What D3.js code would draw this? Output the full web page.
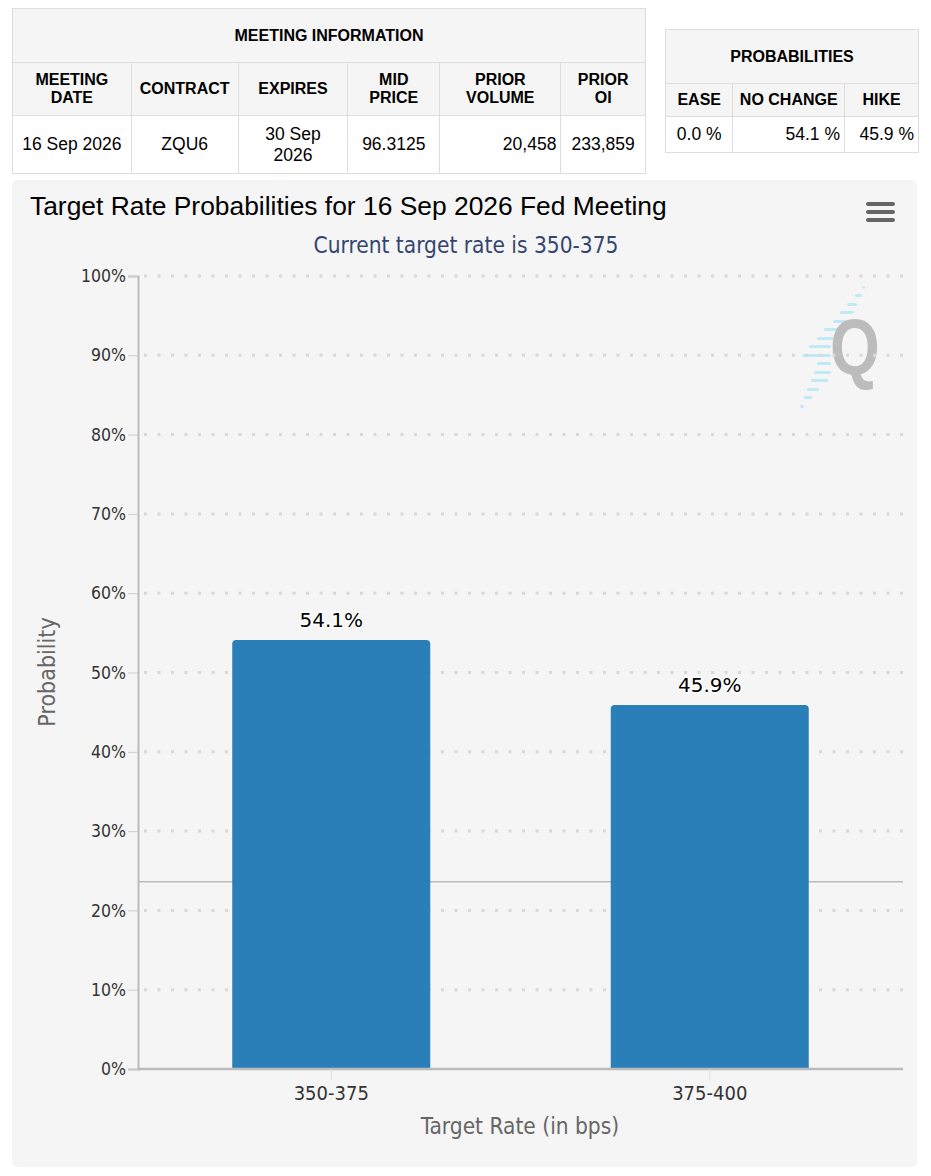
<!DOCTYPE html>
<html>
<head>
<meta charset="utf-8">
<script src="https://cdn.jsdelivr.net/npm/d3@7"></script>
<style>
  body { margin: 0; background: #fff; font-family: Arial, "Liberation Sans", sans-serif; }
  table { position: absolute; border-collapse: collapse; background: #fff; }
  td, th { border: 1px solid #ddd; font-size: 16px; padding: 0 4px; }
  th { background: #f5f5f5; font-weight: bold; text-align: center; }
  td { text-align: center; font-size: 17.5px; }
  td.num { text-align: right; }
  #chart { position: absolute; left: 12px; top: 180px; }
</style>
</head>
<body>
<div id="tables"></div>
<div id="chart"></div>
<script>
// meeting info
const meetingHeaders = ["MEETING<br>DATE", "CONTRACT", "EXPIRES", "MID<br>PRICE", "PRIOR<br>VOLUME", "PRIOR<br>OI"];
const meetingRow = ["16 Sep 2026", "ZQU6", "30 Sep<br>2026", "96.3125", "20,458", "233,859"];
const meetingColWidths = [123, 101, 112, 90, 128, 80];

// probabilities table
const probHeaders = ["EASE", "NO CHANGE", "HIKE"];
const probRow = ["0.0 %", "54.1 %", "45.9 %"];
const probColWidths = [64, 115, 75];

// chart data
const categories = ["350-375", "375-400"];
const probabilities = [54.1, 45.9];
const yTicks = [0, 10, 20, 30, 40, 50, 60, 70, 80, 90, 100];
const currentRate = "350-375";
const plotLineValue = 23.6;

// --- tables ---
function buildTable(title, headers, row, widths, left, top, heights, numCols) {
    let t = d3.select('#tables').append('table')
        .style('left', left + 'px')
        .style('top', top + 'px')
        .style('width', d3.sum(widths) + 'px');
    t.append('tr').style('height', heights[0] + 'px')
        .append('th').attr('colspan', headers.length).html(title);
    t.append('tr').style('height', heights[1] + 'px')
        .selectAll('th').data(headers).enter().append('th')
        .style('width', (d, i) => widths[i] + 'px')
        .html(d => d);
    t.append('tr').style('height', heights[2] + 'px')
        .selectAll('td').data(row).enter().append('td')
        .attr('class', (d, i) => numCols.includes(i) ? 'num' : null)
        .html(d => d);
}
buildTable("MEETING INFORMATION", meetingHeaders, meetingRow, meetingColWidths, 12, 8, [54, 53, 58], [4]);
buildTable("PROBABILITIES", probHeaders, probRow, probColWidths, 665, 29, [54, 33, 36], [1, 2]);

// --- chart ---
let width = 905;
let height = 987;
let margin = { left: 126, right: 14, top: 96, bottom: 98 };
let condensed = '"DejaVu Sans Condensed", "DejaVu Sans", sans-serif';

let svg = d3.select('#chart')
    .append('svg')
    .attr('width', width)
    .attr('height', height);

svg.append('rect')
    .attr('width', width)
    .attr('height', height)
    .attr('rx', 5)
    .attr('fill', '#f5f5f5');

// band range trimmed a little so the bar centres match
let x = d3.scaleBand()
    .domain(categories)
    .range([margin.left + 4, width - margin.right - 4]);

let y = d3.scaleLinear()
    .domain([0, 100])
    .range([height - margin.bottom, margin.top]);

// title
svg.append('text')
    .attr('x', 18)
    .attr('y', 35)
    .attr('font-family', 'Arial, "Liberation Sans", sans-serif')
    .attr('font-size', 26.4)
    .attr('fill', '#000')
    .text('Target Rate Probabilities for 16 Sep 2026 Fed Meeting');

svg.append('text')
    .attr('x', 454)
    .attr('y', 73)
    .attr('text-anchor', 'middle')
    .attr('font-family', condensed)
    .attr('font-size', 22.5)
    .attr('fill', '#34466f')
    .text('Current target rate is ' + currentRate);

// menu icon
let menu = svg.append('g').attr('transform', 'translate(854,22)');
[0, 8, 16].forEach(function (dy) {
    menu.append('rect')
        .attr('y', dy)
        .attr('width', 29)
        .attr('height', 4)
        .attr('rx', 2)
        .attr('fill', '#666');
});

// watermark logo: stripes [y, x1, x2] relative to logo origin
let logo = svg.append('g').attr('transform', 'translate(768,106)');
let stripes = [[0, 82, 85], [8, 75, 82], [17, 67, 77], [25, 60, 74], [34, 53, 68], [42, 44, 60],
    [51, 37, 54], [59, 29, 51], [68, 22, 51], [76, 37, 51], [85, 34, 51], [93, 31, 48],
    [102, 27, 39], [110, 24, 32], [119, 20, 24]];
logo.selectAll('rect')
    .data(stripes)
    .enter()
    .append('rect')
    .attr('x', d => d[1])
    .attr('y', d => d[0])
    .attr('width', d => d[2] - d[1])
    .attr('height', 3)
    .attr('rx', 1.5)
    .attr('fill', '#bfe9f5');
logo.append('text')
    .attr('transform', 'translate(75,88) scale(0.8,1)')
    .attr('text-anchor', 'middle')
    .attr('font-family', 'Arial, "Liberation Sans", sans-serif')
    .attr('font-weight', 'bold')
    .attr('font-size', 80)
    .attr('fill', '#bcbcbc')
    .text('Q');

// gridlines
svg.append('g')
    .selectAll('line')
    .data(yTicks.filter(d => d > 0))
    .enter()
    .append('line')
    .attr('x1', margin.left + 6)
    .attr('x2', width - margin.right)
    .attr('y1', d => y(d))
    .attr('y2', d => y(d))
    .attr('stroke', '#d8d8d8')
    .attr('stroke-width', 3)
    .attr('stroke-dasharray', '3,10.5');

// plot line
svg.append('line')
    .attr('x1', margin.left)
    .attr('x2', width - margin.right)
    .attr('y1', y(plotLineValue))
    .attr('y2', y(plotLineValue))
    .attr('stroke', '#bbb')
    .attr('stroke-width', 1.5);

// y axis
let yAxis = svg.append('g')
    .attr('transform', 'translate(' + margin.left + ',0)')
    .call(d3.axisLeft(y).tickValues(yTicks).tickFormat(d => d + '%').tickSize(10).tickPadding(2));
yAxis.select('.domain').attr('stroke', '#bbb').attr('stroke-width', 2);
yAxis.selectAll('.tick line').attr('stroke', '#ccc');
yAxis.selectAll('.tick text')
    .attr('font-family', condensed)
    .attr('font-size', 17.5)
    .attr('fill', '#333');

// bars
let barWidth = 198;
svg.append('g')
    .selectAll('path')
    .data(probabilities)
    .enter()
    .append('path')
    .attr('d', function (d, i) {
        let x0 = x(categories[i]) + (x.bandwidth() - barWidth) / 2;
        let y0 = y(d);
        let y1 = y(0);
        let r = 4;
        return 'M' + x0 + ',' + y1 +
            'V' + (y0 + r) + 'Q' + x0 + ',' + y0 + ' ' + (x0 + r) + ',' + y0 +
            'H' + (x0 + barWidth - r) + 'Q' + (x0 + barWidth) + ',' + y0 + ' ' + (x0 + barWidth) + ',' + (y0 + r) +
            'V' + y1 + 'Z';
    })
    .attr('fill', '#2a7fb8');

// bar labels
svg.append('g')
    .selectAll('text')
    .data(probabilities)
    .enter()
    .append('text')
    .attr('x', (d, i) => x(categories[i]) + x.bandwidth() / 2)
    .attr('y', d => y(d) - 13)
    .attr('text-anchor', 'middle')
    .attr('font-family', '"DejaVu Sans", Verdana, sans-serif')
    .attr('font-size', 20)
    .attr('fill', '#000')
    .attr('stroke', '#fff')
    .attr('stroke-width', 3)
    .attr('paint-order', 'stroke')
    .text(d => d.toFixed(1) + '%');

// x axis
let xAxis = svg.append('g')
    .attr('transform', 'translate(0,' + y(0) + ')')
    .call(d3.axisBottom(x).tickSize(11).tickPadding(6).tickSizeOuter(0));
xAxis.select('.domain')
    .attr('d', 'M' + margin.left + ',0H' + (width - margin.right))
    .attr('stroke', '#bbb').attr('stroke-width', 2.5);
xAxis.selectAll('.tick line').attr('stroke', '#ddd');
xAxis.selectAll('.tick text')
    .attr('font-family', condensed)
    .attr('font-size', 20)
    .attr('fill', '#333');

// axis titles
svg.append('text')
    .attr('x', 508)
    .attr('y', height - 33)
    .attr('text-anchor', 'middle')
    .attr('font-family', condensed)
    .attr('font-size', 22.5)
    .attr('fill', '#666')
    .text('Target Rate (in bps)');

svg.append('text')
    .attr('transform', 'translate(43,492) rotate(-90)')
    .attr('text-anchor', 'middle')
    .attr('font-family', condensed)
    .attr('font-size', 23)
    .attr('fill', '#666')
    .text('Probability');
</script>
</body>
</html>
